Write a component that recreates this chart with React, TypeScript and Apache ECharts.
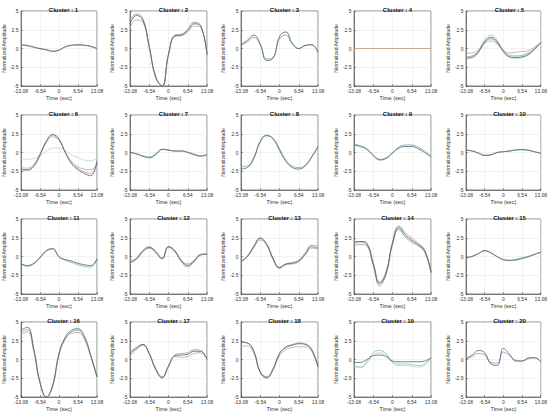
import React, { useEffect, useRef } from "react";
import * as echarts from "echarts";

const time = [-13.08, -10.9, -8.72, -6.54, -4.36, -2.18, 0, 2.18, 4.36, 6.54, 8.72, 10.9, 13.08];
const xTicks = [-13.08, -6.54, 0, 6.54, 13.08];
const yTicks = [-5, -2.5, 0, 2.5, 5];

const cluster1 = [
  [0.5, 0.4, 0.2, 0.0, -0.15, -0.35, -0.2, 0.25, 0.45, 0.5, 0.45, 0.3, 0.0],
  [0.45, 0.35, 0.15, -0.05, -0.2, -0.4, -0.25, 0.2, 0.4, 0.45, 0.4, 0.25, -0.05],
];
const cluster2 = [
  [3.3, 4.4, 3.8, 0.2, -3.8, -5.0, -0.8, 1.7, 1.8, 2.4, 3.3, 3.0, -0.8],
  [3.8, 4.6, 4.0, 0.3, -3.7, -5.0, -0.7, 1.8, 1.9, 2.6, 3.5, 3.1, -0.7],
  [2.8, 3.8, 3.5, 0.1, -3.9, -5.0, -0.9, 1.6, 1.7, 2.2, 3.0, 2.8, -0.9],
];
const cluster3 = [
  [0.5, 1.1, 1.8, 0.6, -1.6, -1.3, 1.6, 2.2, 0.7, 0.0, 0.4, 0.5, -0.5],
  [0.4, 0.9, 1.5, 0.5, -1.4, -1.2, 1.3, 1.8, 0.6, 0.0, 0.4, 0.5, -0.5],
];
const cluster4 = [
  [0, 0, 0, 0, 0, 0, 0, 0, 0, 0, 0, 0, 0],
  [0, 0, 0, 0, 0, 0, 0, 0, 0, 0, 0, 0, 0],
];
const cluster5 = [
  [-1.3, -1.2, -0.5, 0.9, 1.5, 0.9, -0.4, -1.1, -1.2, -1.1, -0.8, -0.1, 0.8],
  [-1.1, -1.0, -0.4, 0.8, 1.3, 0.8, -0.3, -0.9, -1.0, -0.9, -0.6, 0.0, 0.8],
  [-0.6, -0.6, -0.1, 0.7, 1.0, 0.6, -0.2, -0.6, -0.5, -0.4, -0.3, 0.2, 0.8],
  [-1.2, -1.0, -0.3, 1.2, 1.8, 1.1, -0.4, -1.2, -1.3, -1.2, -0.9, -0.1, 0.8],
];
const cluster6 = [
  [-2.2, -2.3, -1.8, -0.3, 1.5, 2.4, 1.8, 0.0, -1.5, -2.3, -2.8, -3.1, -1.2],
  [-2.0, -2.1, -1.6, -0.2, 1.5, 2.3, 1.7, 0.0, -1.4, -2.1, -2.6, -2.8, -1.1],
  [-2.4, -2.4, -1.9, -0.4, 1.3, 2.1, 1.6, 0.0, -1.2, -1.9, -2.2, -2.3, -1.5],
  [-0.8, -0.9, -0.8, -0.5, 0.2, 0.6, 0.6, 0.2, -0.3, -0.7, -1.0, -1.1, -0.8],
];
const cluster7 = [
  [0.0, -0.2, -0.5, -0.7, -0.3, 0.4, 0.3, 0.2, 0.2, 0.0, -0.3, -0.5, -0.3],
  [0.05, -0.15, -0.45, -0.6, -0.2, 0.45, 0.35, 0.2, 0.2, 0.05, -0.2, -0.4, -0.3],
];
const cluster8 = [
  [-2.2, -2.0, -0.8, 1.5, 2.3, 1.8, 0.3, -1.2, -2.0, -2.2, -1.8, -0.6, 0.8],
  [-1.9, -1.8, -0.6, 1.4, 2.2, 1.9, 0.5, -1.0, -1.8, -2.0, -1.7, -0.6, 0.7],
];
const cluster9 = [
  [1.0, 0.8, 0.4, -0.4, -1.0, -0.8, -0.1, 0.6, 0.8, 0.8, 0.5, 0.0, -0.6],
  [1.1, 0.9, 0.5, -0.3, -0.9, -0.7, 0.0, 0.7, 1.0, 1.0, 0.7, 0.2, -0.5],
];
const cluster10 = [
  [0.3, 0.2, -0.1, -0.4, -0.3, 0.0, 0.1, 0.2, 0.35, 0.4, 0.3, 0.1, -0.1],
  [0.35, 0.2, -0.05, -0.35, -0.3, 0.0, 0.1, 0.2, 0.3, 0.35, 0.3, 0.1, -0.1],
];
const cluster11 = [
  [-1.0, -1.2, -0.9, -0.1, 0.8, 1.05, 0.0, -0.4, -0.6, -0.9, -1.1, -1.2, -0.3],
  [-1.0, -1.3, -1.0, -0.2, 0.7, 1.0, -0.1, -0.5, -0.8, -1.1, -1.3, -1.4, -0.4],
];
const cluster12 = [
  [-0.8, -0.3, 0.7, 1.2, 0.6, -0.3, 1.3, 0.7, -0.6, -1.2, -0.6, 0.2, 0.3],
  [-0.6, -0.2, 0.8, 1.3, 0.7, -0.2, 1.35, 0.8, -0.5, -1.0, -0.5, 0.3, 0.35],
  [-0.9, -0.4, 0.6, 1.1, 0.5, -0.3, 1.2, 0.6, -0.7, -1.4, -0.7, 0.2, 0.3],
];
const cluster13 = [
  [-0.7, 0.0, 1.3, 2.4, 1.6, -0.3, -1.5, -1.0, -0.9, -0.6, 0.3, 1.3, 1.1],
  [-0.7, 0.1, 1.4, 2.5, 1.7, -0.2, -1.4, -1.0, -0.8, -0.5, 0.5, 1.5, 1.4],
  [-0.6, 0.0, 1.2, 2.2, 1.5, -0.4, -1.6, -1.1, -1.0, -0.7, 0.2, 1.1, 1.0],
];
const cluster14 = [
  [1.9, 2.0, 1.7, -1.0, -3.6, -2.2, 1.8, 3.9, 2.9, 2.2, 1.6, 0.8, -2.1],
  [1.5, 1.6, 1.4, -1.2, -3.9, -2.4, 1.6, 3.6, 2.6, 1.9, 1.4, 0.6, -2.2],
  [1.8, 1.9, 1.6, -0.9, -3.4, -2.0, 1.9, 4.1, 3.2, 2.5, 1.8, 0.9, -2.0],
  [2.0, 2.0, 1.8, -0.8, -3.5, -2.1, 1.7, 3.7, 2.7, 2.1, 1.5, 0.7, -2.0],
];
const cluster15 = [
  [-0.2, 0.0, 0.4, 0.8, 0.5, 0.0, -0.4, -0.5, -0.4, -0.2, 0.0, 0.3, 0.6],
  [-0.15, 0.05, 0.4, 0.75, 0.45, -0.05, -0.45, -0.55, -0.5, -0.3, -0.05, 0.25, 0.55],
];
const cluster16 = [
  [3.9, 4.3, 1.5, -3.0, -5.0, -3.4, 0.8, 3.0, 3.9, 4.1, 3.1, 0.6, -2.3],
  [3.6, 4.0, 1.3, -3.1, -5.0, -3.5, 0.7, 2.8, 3.7, 3.9, 2.9, 0.5, -2.3],
  [3.3, 3.7, 1.1, -3.2, -5.0, -3.6, 0.6, 2.7, 3.5, 3.6, 2.7, 0.4, -2.4],
];
const cluster17 = [
  [0.8, 1.5, 2.0, 0.8, -1.3, -2.4, -0.9, 0.5, 0.6, 0.7, 1.1, 1.1, 0.0],
  [1.0, 1.6, 2.0, 0.8, -1.2, -2.3, -0.8, 0.6, 0.8, 0.9, 1.3, 1.2, 0.0],
  [0.5, 1.3, 1.9, 0.7, -1.4, -2.5, -1.0, 0.4, 0.3, 0.4, 0.8, 0.9, 0.0],
];
const cluster18 = [
  [2.3, 2.2, 1.1, -1.7, -2.4, -1.3, 0.8, 1.6, 1.9, 2.1, 2.0, 1.3, -1.0],
  [2.3, 2.2, 1.1, -1.6, -2.3, -1.2, 0.8, 1.7, 2.0, 2.2, 2.1, 1.4, -0.9],
  [1.8, 1.8, 0.8, -1.8, -2.5, -1.4, 0.5, 1.3, 1.6, 1.7, 1.7, 1.1, -1.0],
];
const cluster19 = [
  [-0.4, -0.4, 0.0, 0.5, 0.6, 0.4, -0.2, -0.3, -0.3, -0.3, -0.3, -0.2, 0.2],
  [-0.8, -1.0, -0.3, 0.9, 1.2, 0.8, -0.3, -0.6, -0.6, -0.7, -0.8, -0.6, 0.3],
  [-1.0, -1.1, -0.5, 0.6, 0.9, 0.6, -0.5, -0.8, -0.8, -0.9, -1.0, -0.8, 0.2],
];
const cluster20 = [
  [0.1, 0.6, 1.2, 0.9, -0.6, -0.8, 1.5, 0.7, -0.2, -0.2, 0.2, 0.25, -0.3],
  [0.1, 0.4, 0.8, 0.6, -0.4, -0.5, 1.0, 0.5, -0.1, -0.2, 0.1, 0.2, -0.3],
];

const clusters = [
  cluster1, cluster2, cluster3, cluster4, cluster5,
  cluster6, cluster7, cluster8, cluster9, cluster10,
  cluster11, cluster12, cluster13, cluster14, cluster15,
  cluster16, cluster17, cluster18, cluster19, cluster20,
];

// styles
const palette = ["#5a5a6e", "#66a8a8", "#c99a9a", "#a3d3a3"];
const lineColors: Record<number, string[]> = {
  3: ["#c8a27e", "#b9b0a0"],
  5: ["#5a5a6e", "#c99a9a", "#88c498", "#b0deb0"],
  18: ["#5a5a6e", "#88c498", "#b0deb0"],
  19: ["#5a5a6e", "#a884b0"],
};
const colLefts = [20, 130, 241, 354, 466];
const rowTops = [11, 115, 219, 322];
const plotW = 77;
const plotH = 75;
const font = "Liberation Sans, Arial, sans-serif";

function fmt(v: number) {
  return String(Number(v.toFixed(2)));
}

export default function App() {
  const ref = useRef<HTMLDivElement>(null);
  useEffect(() => {
    if (!ref.current) return;
    const chart = echarts.init(ref.current, undefined, { renderer: "svg" });
    const grids: any[] = [];
    const xAxes: any[] = [];
    const yAxes: any[] = [];
    const titles: any[] = [];
    const series: any[] = [];
    clusters.forEach((lines, i) => {
      const r = Math.floor(i / 5);
      const c = i % 5;
      const left = colLefts[c];
      const top = rowTops[r];
      grids.push({
        left, top, width: plotW, height: plotH,
        show: true, borderColor: "#3a3a3a", borderWidth: 0.6, backgroundColor: "#fff",
      });
      titles.push({
        text: `Cluster : ${i + 1}`,
        left: left + plotW / 2,
        top: top - 9,
        textAlign: "center",
        textStyle: { fontSize: 6, fontWeight: "bold", color: "#111", fontFamily: font },
      });
      xAxes.push({
        type: "value", gridIndex: i, min: xTicks[0], max: xTicks[xTicks.length - 1], interval: 6.54,
        name: "Time (sec)", nameLocation: "middle", nameGap: 9,
        nameTextStyle: { fontSize: 5.5, color: "#333", fontFamily: font },
        axisLine: { show: true, onZero: false, lineStyle: { color: "#3a3a3a", width: 0.6 } },
        axisTick: { show: true, inside: true, length: 2, lineStyle: { color: "#3a3a3a", width: 0.5 } },
        axisLabel: { fontSize: 5, color: "#333", margin: 2.5, fontFamily: font, formatter: (v: number) => fmt(v) },
        splitLine: { show: true, lineStyle: { color: "#e4e4e4", width: 0.5 } },
      });
      yAxes.push({
        type: "value", gridIndex: i, min: yTicks[0], max: yTicks[yTicks.length - 1], interval: 2.5,
        name: "Normalized Amplitude", nameLocation: "middle", nameGap: 11,
        nameTextStyle: { fontSize: 5, color: "#333", fontFamily: font },
        axisLine: { show: true, onZero: false, lineStyle: { color: "#3a3a3a", width: 0.6 } },
        axisTick: { show: true, inside: true, length: 2, lineStyle: { color: "#3a3a3a", width: 0.5 } },
        axisLabel: { fontSize: 5, color: "#333", margin: 2.5, fontFamily: font, formatter: (v: number) => fmt(v) },
        splitLine: { show: true, lineStyle: { color: "#e4e4e4", width: 0.5 } },
      });
      const cols = lineColors[i] || palette;
      lines.forEach((vals, k) => {
        series.push({
          type: "line",
          xAxisIndex: i,
          yAxisIndex: i,
          smooth: 0.45,
          showSymbol: false,
          clip: true,
          z: 10 - k,
          lineStyle: { color: cols[k % cols.length], width: 0.8 },
          data: time.map((t, j) => [t, vals[j]]),
        });
      });
    });
    chart.setOption({
      animation: false,
      backgroundColor: "#fff",
      title: titles,
      grid: grids,
      xAxis: xAxes,
      yAxis: yAxes,
      series,
    });
    return () => chart.dispose();
  }, []);
  return (
    <div
      ref={ref}
      style={{ position: "fixed", left: 0, top: 0, width: 550, height: 415, background: "#fff" }}
    />
  );
}
